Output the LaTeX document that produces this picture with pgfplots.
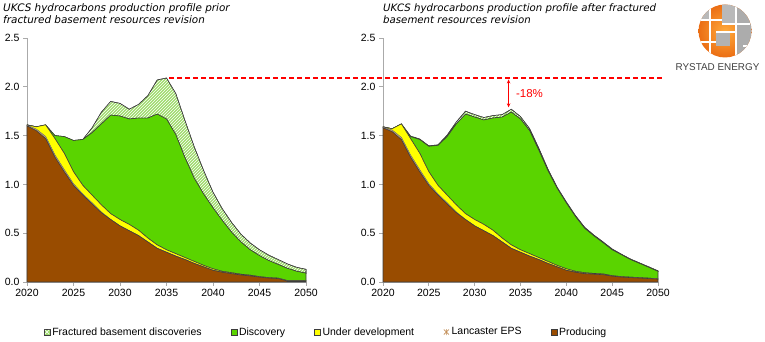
\documentclass[border=0pt]{standalone}
\usepackage{pgfplots}
\pgfplotsset{compat=1.18}
\usepackage{pgfplotstable}
\usepackage{fontspec}
\setmainfont{Liberation Sans}
\newfontfamily\titlefont{DejaVu Sans}
\usetikzlibrary{patterns,arrows.meta}

\definecolor{prodbrown}{RGB}{153,76,0}
\definecolor{udevyellow}{RGB}{255,255,0}
\definecolor{discgreen}{RGB}{90,212,0}
\definecolor{fracgreen}{RGB}{160,220,110}
\definecolor{lancbrown}{RGB}{205,160,110}
\definecolor{lineclr}{RGB}{60,60,60}
\definecolor{axclr}{RGB}{170,170,170}
\definecolor{annred}{RGB}{255,0,0}

\pgfplotstableread{
year prod lanc udev disc frac
2020 1.600 0.005 0.005 0.000 0.000
2021 1.550 0.015 0.025 0.000 0.000
2022 1.470 0.020 0.120 0.000 0.000
2023 1.280 0.020 0.170 0.030 0.000
2024 1.130 0.020 0.170 0.170 0.000
2025 0.990 0.015 0.125 0.320 0.000
2026 0.890 0.010 0.090 0.470 0.000
2027 0.800 0.010 0.080 0.640 0.050
2028 0.710 0.005 0.075 0.830 0.120
2029 0.640 0.000 0.060 1.010 0.140
2030 0.575 0.000 0.065 1.060 0.130
2031 0.525 0.000 0.065 1.080 0.100
2032 0.475 0.000 0.055 1.150 0.140
2033 0.410 0.000 0.040 1.230 0.230
2034 0.345 0.000 0.035 1.340 0.350
2035 0.305 0.000 0.025 1.340 0.420
2036 0.265 0.000 0.025 1.220 0.420
2037 0.230 0.000 0.020 1.020 0.380
2038 0.190 0.000 0.020 0.850 0.320
2039 0.155 0.000 0.015 0.730 0.240
2040 0.120 0.000 0.015 0.625 0.160
2041 0.100 0.000 0.010 0.520 0.120
2042 0.085 0.000 0.010 0.415 0.100
2043 0.072 0.000 0.008 0.330 0.080
2044 0.062 0.000 0.008 0.260 0.070
2045 0.050 0.000 0.005 0.215 0.060
2046 0.040 0.000 0.005 0.175 0.055
2047 0.035 0.000 0.005 0.140 0.050
2048 0.010 0.000 0.005 0.125 0.045
2049 0.010 0.000 0.005 0.095 0.040
2050 0.010 0.000 0.002 0.078 0.040
}\leftdata

\pgfplotstableread{
year prod lanc udev disc frac
2020 1.580 0.005 0.005 0.000 0.000
2021 1.540 0.015 0.015 0.000 0.000
2022 1.460 0.020 0.140 0.000 0.000
2023 1.280 0.020 0.170 0.020 0.005
2024 1.130 0.020 0.170 0.140 0.005
2025 0.990 0.015 0.125 0.260 0.005
2026 0.890 0.010 0.090 0.410 0.005
2027 0.800 0.010 0.080 0.600 0.015
2028 0.710 0.005 0.075 0.830 0.020
2029 0.640 0.000 0.060 1.020 0.030
2030 0.575 0.000 0.065 1.050 0.025
2031 0.525 0.000 0.065 1.070 0.025
2032 0.475 0.000 0.055 1.150 0.025
2033 0.410 0.000 0.040 1.240 0.025
2034 0.345 0.000 0.035 1.360 0.030
2035 0.305 0.000 0.025 1.340 0.025
2036 0.265 0.000 0.025 1.260 0.020
2037 0.230 0.000 0.020 1.100 0.020
2038 0.190 0.000 0.020 0.930 0.015
2039 0.155 0.000 0.015 0.790 0.010
2040 0.120 0.000 0.015 0.675 0.010
2041 0.100 0.000 0.010 0.560 0.010
2042 0.085 0.000 0.010 0.455 0.010
2043 0.080 0.000 0.008 0.385 0.008
2044 0.075 0.000 0.008 0.320 0.008
2045 0.060 0.000 0.005 0.265 0.008
2046 0.050 0.000 0.005 0.225 0.005
2047 0.045 0.000 0.005 0.180 0.005
2048 0.040 0.000 0.005 0.145 0.005
2049 0.035 0.000 0.005 0.110 0.005
2050 0.030 0.000 0.002 0.077 0.005
}\rightdata

\pgfplotsset{
  myaxis/.style={
    scale only axis, height=244pt,
    xmin=2020, xmax=2050, ymin=0, ymax=2.5,
    axis x line*=bottom, axis y line*=left,
    axis line style={draw=axclr, line width=0.8pt},
    xtick={2020,2025,...,2050}, ytick={0,0.5,...,2.5},
    tick align=outside, major tick length=4pt,
    tick style={draw=axclr, line width=0.8pt},
    x tick label style={/pgf/number format/1000 sep={}},
    y tick label style={/pgf/number format/.cd, fixed, fixed zerofill, precision=1},
    /pgf/number format/assume math mode=true,
    tick label style={font=\fontsize{10.5}{12}\selectfont},
    stack plots=y,
    clip=false,
  },
  lay/.style={draw=lineclr, line width=0.55pt},
}

\newcommand{\layers}[1]{%
  \addplot[lay, fill=prodbrown] table[x=year,y=prod] {#1} \closedcycle;
  \addplot[draw=gray, line width=0.4pt, fill=lancbrown] table[x=year,y=lanc] {#1} \closedcycle;
  \addplot[lay, fill=udevyellow] table[x=year,y=udev] {#1} \closedcycle;
  \addplot[lay, fill=discgreen] table[x=year,y=disc] {#1} \closedcycle;
  \addplot[lay, fill=fracgreen, postaction={pattern=north east lines, pattern color=white}] table[x=year,y=frac] {#1} \closedcycle;
}

\begin{document}
\begin{tikzpicture}
\useasboundingbox (0pt,0pt) rectangle (765pt,342pt);

% titles
\node[anchor=north west, inner sep=0pt, align=left, font=\titlefont\itshape\fontsize{10.4}{11.6}\selectfont]
  at (3pt,338.5pt) {UKCS hydrocarbons production profile prior\\fractured basement resources revision};
\node[anchor=north west, inner sep=0pt, align=left, font=\titlefont\itshape\fontsize{10.2}{11.6}\selectfont]
  at (383pt,338.5pt) {UKCS hydrocarbons production profile after fractured\\basement resources revision};

\begin{axis}[myaxis, width=279pt, at={(27pt,60pt)}, anchor=south west,
  legend columns=5,
  legend style={at={(1.072,-0.205)}, anchor=center, draw=none, fill=none,
    font=\fontsize{10.5}{12}\selectfont,
    /tikz/every even column/.append style={column sep=27pt},
    /tikz/every odd column/.append style={column sep=0pt}},
  ]
  \addlegendimage{legend image code/.code={\draw[lineclr, line width=0.4pt, fill=fracgreen] (0pt,-3pt) rectangle (6pt,3pt); \draw[white, line width=0.5pt] (0.8pt,-2.2pt) -- (5.2pt,2.2pt) (0.8pt,2.2pt) -- (5.2pt,-2.2pt);}}
  \addlegendimage{legend image code/.code={\draw[lineclr, line width=0.4pt, fill=discgreen] (0pt,-3pt) rectangle (6pt,3pt);}}
  \addlegendimage{legend image code/.code={\draw[lineclr, line width=0.4pt, fill=udevyellow] (0pt,-3pt) rectangle (6pt,3pt);}}
  \addlegendimage{legend image code/.code={\fill[white] (0pt,-3pt) rectangle (6pt,3pt); \draw[lancbrown!80!prodbrown, line width=0.7pt] (0.5pt,-2.5pt) -- (5.5pt,2.5pt) (0.5pt,2.5pt) -- (5.5pt,-2.5pt) (3pt,-3pt) -- (3pt,3pt);}}
  \addlegendimage{legend image code/.code={\draw[lineclr, line width=0.4pt, fill=prodbrown] (0pt,-3pt) rectangle (6pt,3pt);}}
  \legend{Fractured basement discoveries, Discovery, Under development, Lancaster EPS, Producing}
  \layers{\leftdata}
  \coordinate (dashstart) at (axis cs:2035.3,2.09);
\end{axis}

\begin{axis}[myaxis, width=275pt, at={(383pt,60pt)}, anchor=south west]
  \layers{\rightdata}
  \coordinate (dashend) at (axis cs:2050.5,2.09);
  \coordinate (arrtop) at (axis cs:2033.7,2.075);
  \coordinate (arrbot) at (axis cs:2033.7,1.79);
  \node[text=annred, anchor=west, inner sep=0pt, font=\fontsize{11.5}{13}\selectfont] at (axis cs:2034.5,1.935) {-18\%};
\end{axis}

\draw[annred, line width=1.3pt, dash pattern=on 5pt off 3pt] (dashstart) -- (dashend);
\draw[annred, line width=0.6pt, {Stealth[length=4pt,width=3.5pt]}-{Stealth[length=4pt,width=3.5pt]}] (arrtop) -- (arrbot);

% logo
\begin{scope}
  \clip (725pt,311pt) circle (26.5pt);
  \shade[inner color={rgb,255:red,255;green,170;blue,60}, outer color={rgb,255:red,235;green,110;blue,20}] (725pt,311pt) circle (26.5pt);
  \fill[gray!65] (736pt,280pt) rectangle (760pt,345pt);
  \fill[gray!55] (722pt,318pt) rectangle (736pt,338pt);
  \fill[gray!60] (716pt,296pt) rectangle (730pt,310pt);
  \fill[gray!55] (700pt,322pt) rectangle (710pt,332pt);
  \draw[white, line width=1.4pt] (736pt,280pt) -- (736pt,345pt) (722pt,318pt) -- (750pt,318pt) (716pt,310pt) -- (736pt,310pt)
     (710pt,280pt) -- (710pt,345pt) (690pt,300pt) -- (716pt,300pt) (743pt,296pt) -- (760pt,296pt) (700pt,322pt) -- (722pt,322pt);
\end{scope}
\node[font=\fontsize{9.9}{11}\selectfont, text=black!75, inner sep=0pt] at (717.5pt,275pt) {RYSTAD ENERGY};
\end{tikzpicture}
\end{document}
